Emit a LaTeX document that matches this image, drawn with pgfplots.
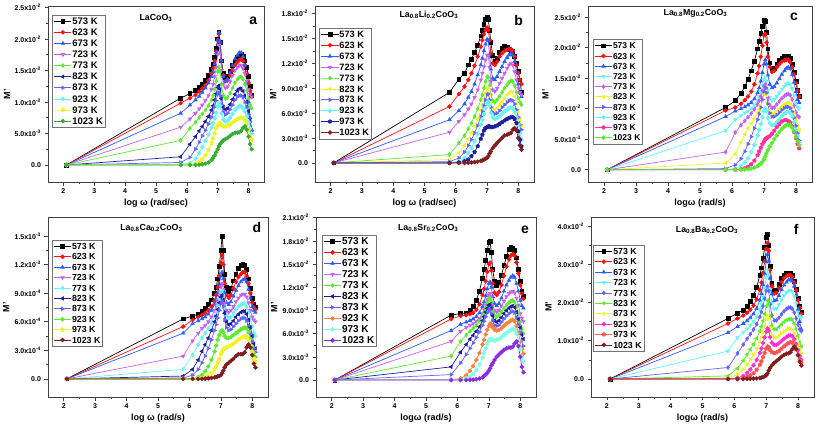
\documentclass[border=0pt]{standalone}
\usepackage{fontspec}
\setmainfont{Liberation Sans}
\usepackage{pgfplots}
\usepackage{pgfplotstable}
\pgfplotsset{compat=1.18}

\definecolor{cRed}{HTML}{FF1010}
\definecolor{cBlue}{HTML}{2B5CFF}
\definecolor{cViolet}{HTML}{C660F5}
\definecolor{cGreen}{HTML}{5CEB2E}
\definecolor{cNavy}{HTML}{1E1EA0}
\definecolor{cBV}{HTML}{6464FF}
\definecolor{cCyan}{HTML}{66F5F5}
\definecolor{cYellow}{HTML}{F2F22A}
\definecolor{cDkGreen}{HTML}{36AD36}
\definecolor{cBrown}{HTML}{7F1F1F}
\definecolor{cPink}{HTML}{FF3399}
\definecolor{cMagenta}{HTML}{FF30D0}
\definecolor{cSalmon}{HTML}{FF5555}
\definecolor{cOrange}{HTML}{FF8040}
\definecolor{cLCyan}{HTML}{80FFE8}
\definecolor{cPurple}{HTML}{8A2BE2}

% rows = temperatures (573 ... 1023 K), columns = log omega; values in units given per panel
\pgfplotstableread{
T 2.1 5.8 6.1 6.28 6.4 6.5 6.6 6.7 6.8 6.85 6.9 6.95 7.0 7.04 7.08 7.12 7.18 7.25 7.32 7.4 7.48 7.56 7.64 7.7 7.76 7.82 7.88 7.94 8.0 8.05 8.1
s1 0 10.6 11.3 11.8 12.3 12.8 13.4 14.2 15.2 16 17 18.5 20 21 19.5 16.5 14.5 13.8 14 14.8 15.8 16.5 17 17.3 17.5 17.2 16.5 15.5 14 12.5 11
s2 0 9.8 10.6 11.1 11.6 12.1 12.7 13.4 14.5 15.3 16.5 18 19.8 20.8 19.5 16.5 14.2 13.3 13.4 14.2 15 15.8 16.3 16.6 16.8 16.5 15.8 14.5 13 11.8 10.8
s3 0 8.2 9.5 10.3 10.9 11.5 12.2 13 14 14.8 16 17.8 19.8 21 19.5 16.5 14 13.3 13.6 14.6 15.8 16.8 17.4 17.8 17.8 17.2 15.8 13 10 7.5 5.5
s4 0 6.0 7.3 8.2 8.9 9.5 10.2 11 12 12.8 14 15.5 17.5 19 17.8 15 12.8 12.2 12.4 13.2 14.2 15 15.5 15.8 15.8 15.3 14.5 13.3 12 11.2 10.8
s5 0 3.9 5.8 6.8 7.5 8.1 8.7 9.4 10.3 11 12 13.3 14.8 15.5 14.8 12.8 11 10.5 10.7 11.4 12.2 13 13.6 13.9 14 13.6 12.8 11.8 10.5 9.5 9
s6 0 1.3 3.3 4.5 5.4 6.1 6.9 7.7 8.7 9.4 10.3 11.3 12.3 12.6 12 10.5 9.2 8.8 9 9.6 10.4 11.2 11.8 12.1 12.1 11.7 11 10 8.5 7 5.5
s7 0 0.4 1.2 2.5 3.6 4.6 5.5 6.5 7.6 8.3 9.2 10.2 11.2 11.5 11 9.6 8.4 8 8.2 8.8 9.5 10.3 10.8 11 11 10.7 10 9.2 8 6.8 5.5
s8 0 0.1 0.3 1.0 1.9 2.8 3.8 4.8 5.9 6.6 7.4 8.3 9.3 9.8 9.4 8.2 7.2 6.9 7 7.5 8.1 8.7 9.1 9.3 9.3 9 8.5 7.8 6.8 5.8 5
s9 0 0 0.05 0.2 0.5 0.9 1.5 2.4 3.5 4.2 5.0 5.8 6.3 6.6 6.6 6.3 6.1 6.1 6.2 6.4 6.7 7 7.3 7.4 7.5 7.4 7.1 6.5 5.5 4.5 4
s10 0 0 0 0 0.05 0.1 0.2 0.4 0.8 1.1 1.5 2 2.5 3 3.3 3.6 3.9 4.1 4.3 4.6 4.9 5.1 5.1 5.2 5.4 5.9 6.1 5.6 4.5 3.3 2.5
}\rawA
\pgfplotstableread{
T 2.1 5.8 6.1 6.28 6.4 6.5 6.6 6.7 6.8 6.85 6.9 6.95 7.0 7.04 7.08 7.12 7.18 7.25 7.32 7.4 7.48 7.56 7.64 7.7 7.76 7.82 7.88 7.94 8.0 8.05 8.1
s1 0 8.5 10.1 10.8 11.8 12.5 13.3 14.2 15.3 16 16.7 17.3 17.5 17.3 16 14.5 13 12.2 12.6 13.3 13.8 14 13.9 13.7 13.6 13.4 12.8 12 11 10 8.5
s2 0 6.8 8.3 9.2 10 10.8 11.7 12.8 14 14.8 15.5 16 16.3 16 14.8 13.2 12 11.8 12.2 12.8 13.2 13.5 13.6 13.7 13.7 13.5 12.8 11.8 10.8 10 9.5
s3 0 5.2 6.3 7.1 7.9 8.6 9.5 10.6 11.8 12.6 13.5 14.3 14.9 14.7 13 11.3 10.2 10 10.4 11 11.6 12.2 12.7 13 13.2 13 12.2 11 9.5 8.5 8
s4 0 3.7 5.0 5.8 6.5 7.1 7.9 8.8 10 10.8 11.6 12.4 13 12.9 11.5 9.8 8.8 8.6 9 9.6 10.2 10.8 11.4 11.8 12 11.8 11 10 9 8.5 8.2
s5 0 1.0 2.4 3.3 4.1 4.8 5.6 6.5 7.6 8.2 9 9.8 10.4 10.3 9.3 8.2 7.5 7.3 7.6 8 8.5 9 9.4 9.7 9.9 9.8 9.3 8.5 7.8 7.3 7
s6 0 0.4 1.2 2.1 2.9 3.6 4.4 5.3 6.4 7 7.7 8.4 9 9 8.2 7.2 6.6 6.4 6.6 7 7.4 7.8 8.2 8.4 8.6 8.5 8 7.2 6.2 5.2 4.5
s7 0 0.15 0.6 1.3 2.1 2.8 3.6 4.5 5.6 6.2 6.9 7.6 8.2 8.3 7.6 6.7 6.1 5.9 6 6.3 6.7 7 7.3 7.5 7.6 7.5 7.1 6.4 5.5 4.6 4
s8 0 0.05 0.2 0.6 1.2 1.8 2.6 3.5 4.6 5.2 5.9 6.6 7.2 7.4 6.9 6 5.5 5.3 5.4 5.6 5.9 6.2 6.4 6.6 6.7 6.6 6.2 5.5 4.6 3.6 2.8
s9 0 0 0.05 0.2 0.4 0.8 1.3 2.0 2.9 3.4 3.9 4.2 4.3 4.4 4.4 4.3 4.3 4.4 4.5 4.7 4.9 5.1 5.3 5.4 5.5 5.5 5.3 4.8 3.8 2.8 2
s10 0 0 0 0 0.02 0.05 0.1 0.15 0.25 0.3 0.4 0.5 0.6 0.8 1.1 1.4 1.8 2.1 2.4 2.7 3.0 3.3 3.4 3.5 3.6 4.0 4.2 3.9 3.0 2.1 1.6
}\rawB
\pgfplotstableread{
T 2.1 5.8 6.1 6.28 6.4 6.5 6.6 6.7 6.8 6.85 6.9 6.95 7.0 7.04 7.08 7.12 7.18 7.25 7.32 7.4 7.48 7.56 7.64 7.7 7.76 7.82 7.88 7.94 8.0 8.05 8.1
s1 0 10.2 11.3 12.5 13.6 14.8 16.2 17.8 19.8 21 22.3 23.5 24.5 24.3 22.5 19.8 17.5 16.5 16.6 17.2 17.9 18.3 18.5 18.6 18.6 18.2 17.2 16 14.5 13 12
s2 0 9.7 10.2 10.8 11.4 12 12.8 14 15.8 17 18.5 20.3 22 22.2 20.8 18.5 16.8 16 16.2 16.8 17.3 17.7 17.9 18 18 17.6 16.8 15.6 14.2 13 12
s3 0 8.7 9.6 10 10.3 10.6 11 11.6 12.6 13.4 14.5 15.9 17.3 18 17.3 15.5 14 13.4 13.6 14.2 14.9 15.6 16.2 16.6 16.8 16.5 15.6 14.3 12.8 11.5 11
s4 0 6.4 8.2 8.9 9.3 9.6 10 10.6 11.4 12 12.8 13.8 14.8 15.2 14.5 13 11.8 11.3 11.5 12 12.6 13.2 13.7 14 14.2 14 13.3 12.2 11 10.3 10
s5 0 2.9 6.1 7.3 8 8.6 9.2 9.9 10.7 11.3 12 12.9 13.7 14 13.3 11.8 10.6 10.1 10.2 10.7 11.2 11.7 12.1 12.3 12.4 12.2 11.5 10.5 9.4 8.8 8.6
s6 0 1.1 2.6 4.5 5.8 6.8 7.6 8.4 9.3 9.9 10.6 11.5 12.4 12.8 12.2 10.8 9.6 9.1 9.2 9.6 10 10.4 10.7 10.9 11 10.8 10.2 9.3 8.2 7.2 6.5
s7 0 0.2 0.8 1.8 3 4.2 5.4 6.8 8.2 9.1 10.2 11.5 12.8 13.4 12.6 10.8 9.3 8.7 8.7 9 9.4 9.8 10.1 10.3 10.3 10.1 9.5 8.5 7.2 6 4.8
s8 0 0.05 0.2 0.6 1.2 1.9 2.9 4.1 5.6 6.5 7.5 8.6 9.6 10 9.6 8.5 7.6 7.3 7.4 7.8 8.3 8.8 9.2 9.4 9.5 9.3 8.7 7.8 6.6 5.5 4.5
s9 0 0 0.02 0.1 0.25 0.5 0.9 1.5 2.4 3.0 3.6 4.2 4.6 5 5.2 5.3 5.5 5.9 6.4 7 7.5 7.9 8.1 8.1 8 7.7 7.1 6.2 5.2 4.2 3.5
s10 0 0 0 0.02 0.05 0.1 0.2 0.35 0.6 0.8 1.0 1.3 1.7 2.2 2.7 3.2 3.8 4.4 5.0 5.6 6.2 6.7 7.1 7.3 7.4 7.3 6.9 6.3 5.4 4.6 4
}\rawC
\pgfplotstableread{
T 2.1 5.8 6.1 6.28 6.4 6.5 6.6 6.7 6.8 6.85 6.9 6.95 7.0 7.04 7.08 7.12 7.18 7.25 7.32 7.4 7.48 7.56 7.64 7.7 7.76 7.82 7.88 7.94 8.0 8.05 8.1
s1 0 6.3 6.6 6.8 7.1 7.4 7.8 8.3 9.0 9.6 10.5 11.8 13.5 15.0 13.5 11 9.6 9.2 9.5 10.3 11 11.6 11.9 12 11.9 11.5 10.5 9.5 8.5 7.8 7.5
s2 0 5.5 6.2 6.5 6.7 6.9 7.2 7.6 8.2 8.8 9.6 10.8 12.2 13 12 10 8.8 8.5 8.8 9.5 10.2 10.7 11 11.2 11.2 10.8 10 9 8 7.5 7.3
s3 0 4.8 5.8 6.1 6.3 6.5 6.8 7.2 7.8 8.3 9 10 10.8 11.2 10.5 9 8 7.8 8.1 8.7 9.3 9.8 10.2 10.4 10.5 10.2 9.4 8.5 7.6 7.2 7
s4 0 2.4 4.0 4.8 5.3 5.6 6.0 6.5 7.2 7.7 8.3 9.1 9.7 10 9.4 8.0 7.2 7 7.2 7.6 8.1 8.5 8.8 8.9 8.9 8.6 8 7.2 6.5 6.2 6
s5 0 1.0 2.5 3.6 4.3 4.8 5.3 5.9 6.6 7.1 7.7 8.4 9 9.3 8.8 7.5 6.7 6.4 6.5 6.9 7.3 7.6 7.8 7.9 7.9 7.6 7 6.3 5.5 4.8 4.5
s6 0 0.3 1.0 2.0 2.9 3.6 4.3 5.1 6.0 6.6 7.3 8.0 8.6 8.8 8.3 6.9 6 5.7 5.8 6.1 6.5 6.8 7 7.1 7.1 6.8 6.2 5.4 4.5 3.7 3.2
s7 0 0.1 0.4 1.0 1.7 2.4 3.2 4.1 5.1 5.7 6.4 7.2 7.9 8.2 7.6 6.2 5.4 5.1 5.2 5.5 5.8 6.1 6.3 6.4 6.4 6.1 5.6 4.8 3.9 3.2 2.8
s8 0 0 0.05 0.2 0.4 0.8 1.3 2.0 2.9 3.5 4.1 4.6 5.0 5.1 4.9 4.5 4.3 4.3 4.4 4.6 4.8 5.0 5.2 5.3 5.4 5.3 4.9 4.2 3.4 2.7 2.3
s9 0 0 0 0.05 0.1 0.2 0.35 0.6 1.0 1.3 1.7 2.1 2.6 2.9 3.1 3.2 3.3 3.4 3.5 3.7 3.9 4.1 4.3 4.4 4.5 4.4 4.1 3.5 2.8 2.1 1.8
s10 0 0 0 0 0.02 0.04 0.06 0.1 0.15 0.2 0.25 0.3 0.4 0.6 0.9 1.2 1.5 1.7 1.9 2.1 2.4 2.6 2.6 2.6 2.8 3.3 3.6 3.3 2.5 1.6 1.2
}\rawD
\pgfplotstableread{
T 2.1 5.8 6.1 6.28 6.4 6.5 6.6 6.7 6.8 6.85 6.9 6.95 7.0 7.04 7.08 7.12 7.18 7.25 7.32 7.4 7.48 7.56 7.64 7.7 7.76 7.82 7.88 7.94 8.0 8.05 8.1
s1 0 8.4 8.6 8.7 9.0 9.5 10.3 11.5 13.2 14.3 15.5 16.8 17.8 17.9 16.5 14.3 12.8 12.3 12.6 13.5 14.8 16 16.9 17.2 17.1 16.8 15.8 14.3 12.8 11.5 10.8
s2 0 7.9 8.3 8.4 8.5 8.7 9.1 9.8 11 11.8 12.8 14 15 15.2 14.2 12.5 11.3 11 11.4 12.3 13.5 14.7 15.6 16.1 16.3 16.1 15.2 13.8 12.3 11.2 10.5
s3 0 6.4 7.2 7.5 7.7 7.9 8.2 8.7 9.5 10.1 10.9 11.8 12.5 12.7 12 10.8 9.9 9.6 9.9 10.6 11.5 12.3 12.9 13.3 13.5 13.3 12.5 11.5 10.3 9.6 9.3
s4 0 5.0 6.3 6.8 7.1 7.3 7.6 8.0 8.6 9.1 9.7 10.4 11 11.2 10.7 9.7 9 8.8 9 9.6 10.2 10.8 11.2 11.4 11.5 11.3 10.6 9.7 8.6 8 7.6
s5 0 3.1 5.0 5.8 6.3 6.7 7.1 7.6 8.3 8.8 9.4 10 10.4 10.6 10.1 9.1 8.4 8.2 8.4 8.8 9.3 9.7 10 10.2 10.3 10.1 9.5 8.6 7.5 6.6 6
s6 0 1.7 3.6 4.6 5.3 5.8 6.3 6.9 7.7 8.2 8.8 9.3 9.7 9.8 9.3 8.3 7.7 7.5 7.7 8.1 8.6 9 9.3 9.5 9.6 9.4 8.8 7.9 6.8 5.9 5.3
s7 0 0.7 2.2 3.3 4.1 4.8 5.5 6.2 7.1 7.6 8.2 8.7 9.0 9.1 8.6 7.7 7.1 7 7.1 7.5 7.9 8.3 8.6 8.8 8.9 8.7 8.1 7.2 6.1 5.1 4.4
s8 0 0.05 0.2 0.6 1.2 1.8 2.6 3.5 4.6 5.2 5.9 6.5 7.0 7.3 7.2 6.8 6.5 6.4 6.5 6.7 7 7.3 7.5 7.7 7.8 7.6 7 6.1 5 4 3.4
s9 0 0 0.05 0.2 0.4 0.8 1.3 2.0 2.9 3.5 4.1 4.7 5.1 5.3 5.3 5.2 5.1 5.2 5.3 5.5 5.8 6.1 6.3 6.5 6.6 6.5 6 5.1 4 3 2.4
s10 0 0 0 0 0.02 0.05 0.1 0.2 0.35 0.5 0.7 0.9 1.2 1.5 1.9 2.2 2.6 3 3.3 3.6 3.9 4.1 4.2 4.2 4.3 4.7 5.0 4.4 3 1.7 1.0
}\rawE
\pgfplotstableread{
T 2.1 5.8 6.1 6.28 6.4 6.5 6.6 6.7 6.8 6.85 6.9 6.95 7.0 7.04 7.08 7.12 7.18 7.25 7.32 7.4 7.48 7.56 7.64 7.7 7.76 7.82 7.88 7.94 8.0 8.05 8.1
s1 0 15.8 17.2 18 19 20.2 21.8 24 27 29 31.5 34.3 37 37.8 35 29.5 25 23 23.3 24.8 26.3 27.2 27.6 27.7 27.6 27 25.5 23.5 21 19 17.5
s2 0 14.5 15.8 16.6 17.3 18.1 19.2 20.8 23.3 25.2 27.7 30.7 34 35.5 33.5 28.5 24.2 22.3 22.5 23.8 25.3 26.3 26.9 27.1 27.1 26.6 25.2 23.2 20.6 18.6 17
s3 0 12.1 13.7 14.5 15.2 16 17 18.4 20.6 22.3 24.6 27.5 30.6 32.5 30.8 26.3 22.2 20.4 20.6 21.8 23.3 24.5 25.3 25.8 26 25.6 24.2 21.8 18.2 15 13
s4 0 7.3 10.8 12.2 13.1 14 15 16.3 18.2 19.6 21.4 23.8 26.6 28.5 27.2 23.3 19.8 18.3 18.4 19.4 20.7 21.8 22.6 23 23.2 22.8 21.5 19.6 17.5 16.5 16
s5 0 3.0 6.7 9.0 10.5 11.7 12.9 14.3 16.2 17.5 19 21 23 24.2 23 19.5 16.6 15.3 15.3 16 16.9 17.7 18.3 18.6 18.7 18.3 17.3 15.8 14.2 13 12.5
s6 0 0.8 2.8 4.8 6.4 7.7 9.1 10.6 12.5 13.7 15.2 17 19 20.5 19.5 16.5 14 13 13 13.6 14.3 14.9 15.4 15.6 15.7 15.4 14.5 13 11.2 9.5 8.5
s7 0 0.3 1.2 2.5 3.8 5.0 6.3 7.8 9.6 10.8 12.2 13.8 15.5 16.6 15.9 13.5 11.6 10.8 10.8 11.3 11.9 12.5 12.9 13.1 13.2 12.9 12 10.7 9.2 7.8 6.8
s8 0 0.05 0.3 0.8 1.6 2.5 3.6 5.0 6.8 8.0 9.4 10.9 12.4 13.2 12.6 10.9 9.5 8.9 8.9 9.3 9.9 10.5 11 11.3 11.4 11.2 10.4 9.1 7.5 6 5
s9 0 0 0.05 0.2 0.5 0.9 1.5 2.4 3.7 4.6 5.7 6.8 7.9 8.5 8.3 7.6 7 6.8 6.9 7.3 7.9 8.5 9 9.4 9.6 9.5 8.9 7.8 6.3 5 4.2
s10 0 0 0 0 0.03 0.06 0.1 0.15 0.25 0.35 0.5 0.7 1.0 1.5 2.2 2.9 3.6 4.2 4.7 5.2 5.8 6.3 6.6 6.7 7 7.8 8.4 7.8 6.2 4.5 3.5
}\rawF
\pgfplotstabletranspose[colnames from=T, input colnames to=x]\tabA\rawA
\pgfplotstabletranspose[colnames from=T, input colnames to=x]\tabB\rawB
\pgfplotstabletranspose[colnames from=T, input colnames to=x]\tabC\rawC
\pgfplotstabletranspose[colnames from=T, input colnames to=x]\tabD\rawD
\pgfplotstabletranspose[colnames from=T, input colnames to=x]\tabE\rawE
\pgfplotstabletranspose[colnames from=T, input colnames to=x]\tabF\rawF

\pgfplotsset{
 panel/.style={
  scale only axis, anchor=north west,
  xmin=1.5, xmax=8.5, xtick={2,3,4,5,6,7,8},
  minor x tick num=1, minor y tick num=1,
  tick align=outside, xtick pos=bottom, ytick pos=left,
  major tick length=3.5pt, minor tick length=2pt,
  axis line style={black!75, line width=0.7pt},
  tick style={black!75, line width=0.6pt},
  /pgf/number format/assume math mode=true,
  tick label style={font=\fontsize{7}{8}\selectfont\bfseries},
  label style={font=\fontsize{9}{10}\selectfont\bfseries},
  ylabel={M'},
  ylabel style={at={(axis description cs:-0.19,0.5)}, anchor=center},
  xlabel style={at={(axis description cs:0.5,0)}, anchor=center, yshift=-21pt},
  legend cell align=left,
  legend style={anchor=north west, draw=black!55, line width=0.4pt, fill=white,
    inner xsep=1.5pt, inner ysep=1.5pt, row sep=0.8pt,
    nodes={inner sep=0.6pt, text height=0.72em, text depth=0.1em}},
  every axis plot/.append style={line width=0.7pt, mark size=1.9pt},
 },
 mk1/.style={mark=square*},
 mk2/.style={mark=*},
 mk3/.style={mark=triangle*},
 mk4/.style={mark=triangle*, mark options={rotate=180}},
 mk5/.style={mark=diamond*},
 mk6/.style={mark=triangle*, mark options={rotate=90}},
 mk7/.style={mark=triangle*, mark options={rotate=-90}},
 mk8/.style={mark=*},
 mk9/.style={mark=pentagon*},
 mk10/.style={mark=*},
}
\newcommand\ttl[1]{\node[font=\fontsize{8.8}{10}\selectfont\bfseries] at #1}
\newcommand\lett[1]{\node[font=\fontsize{14}{14}\selectfont\bfseries] at #1}

\begin{document}
\begin{tikzpicture}
\path[use as bounding box] (0,0) rectangle (817pt,-431pt);

% ---------------- a
\begin{axis}[panel, at={(48pt,-6pt)}, width=216pt, height=176pt,
  ymin=-2.7, ymax=25.2, ytick={0,5,10,15,20,25},
  yticklabels={0.0,{5.0x10\textsuperscript{-3}},{1.0x10\textsuperscript{-2}},{1.5x10\textsuperscript{-2}},{2.0x10\textsuperscript{-2}},{2.5x10\textsuperscript{-2}}},
  xlabel={log ω (rad/sec)},
  legend style={at={(axis description cs:0.02,0.95)}, row sep=1.7pt, font=\fontsize{9.5}{11}\selectfont\bfseries}]
\addplot[black, mk1] table[x=x,y=s1]{\tabA}; \addlegendentry{573 K}
\addplot[cRed, mk2] table[x=x,y=s2]{\tabA}; \addlegendentry{623 K}
\addplot[cBlue, mk3] table[x=x,y=s3]{\tabA}; \addlegendentry{673 K}
\addplot[cViolet, mk4] table[x=x,y=s4]{\tabA}; \addlegendentry{723 K}
\addplot[cGreen, mk5] table[x=x,y=s5]{\tabA}; \addlegendentry{773 K}
\addplot[cNavy, mk6] table[x=x,y=s6]{\tabA}; \addlegendentry{823 K}
\addplot[cBV, mk7] table[x=x,y=s7]{\tabA}; \addlegendentry{873 K}
\addplot[cCyan, mk8] table[x=x,y=s8]{\tabA}; \addlegendentry{923 K}
\addplot[cYellow, mk9] table[x=x,y=s9]{\tabA}; \addlegendentry{973 K}
\addplot[cDkGreen, mk10] table[x=x,y=s10]{\tabA}; \addlegendentry{1023 K}
\ttl{(axis description cs:0.5,0.93)} {LaCoO\textsubscript{3}};
\lett{(axis description cs:0.95,0.915)} {a};
\end{axis}

% ---------------- b
\begin{axis}[panel, at={(315pt,-6pt)}, width=219pt, height=176pt,
  ymin=-2.3, ymax=18.9, ytick={0,3,6,9,12,15,18},
  yticklabels={0.0,{3.0x10\textsuperscript{-3}},{6.0x10\textsuperscript{-3}},{9.0x10\textsuperscript{-3}},{1.2x10\textsuperscript{-2}},{1.5x10\textsuperscript{-2}},{1.8x10\textsuperscript{-2}}},
  xlabel={log ω (rad/sec)},
  legend style={at={(axis description cs:0.02,0.875)}, row sep=1.5pt, font=\fontsize{9.2}{11}\selectfont\bfseries}]
\addplot[black, mk1] table[x=x,y=s1]{\tabB}; \addlegendentry{573 K}
\addplot[cRed, mk2] table[x=x,y=s2]{\tabB}; \addlegendentry{623 K}
\addplot[cBlue, mk3] table[x=x,y=s3]{\tabB}; \addlegendentry{673 K}
\addplot[cViolet, mk4] table[x=x,y=s4]{\tabB}; \addlegendentry{723 K}
\addplot[cGreen, mk5] table[x=x,y=s5]{\tabB}; \addlegendentry{773 K}
\addplot[cYellow, mk6] table[x=x,y=s6]{\tabB}; \addlegendentry{823 K}
\addplot[cBV, mk7] table[x=x,y=s7]{\tabB}; \addlegendentry{873 K}
\addplot[cCyan, mk8] table[x=x,y=s8]{\tabB}; \addlegendentry{923 K}
\addplot[cNavy, mk9] table[x=x,y=s9]{\tabB}; \addlegendentry{973 K}
\addplot[cBrown, mk10] table[x=x,y=s10]{\tabB}; \addlegendentry{1023 K}
\ttl{(axis description cs:0.52,0.95)} {La\textsubscript{0.8}Li\textsubscript{0.2}CoO\textsubscript{3}};
\lett{(axis description cs:0.93,0.915)} {b};
\end{axis}

% ---------------- c
\begin{axis}[panel, at={(588pt,-6pt)}, width=224pt, height=176pt,
  ymin=-2, ymax=26.8, ytick={0,5,10,15,20,25},
  yticklabels={0.0,{5.0x10\textsuperscript{-3}},{1.0x10\textsuperscript{-2}},{1.5x10\textsuperscript{-2}},{2.0x10\textsuperscript{-2}},{2.5x10\textsuperscript{-2}}},
  xlabel={logω (rad/s)},
  legend style={at={(axis description cs:0.022,0.81)}, row sep=0.8pt, font=\fontsize{8.5}{10}\selectfont\bfseries}]
\addplot[black, mk1] table[x=x,y=s1]{\tabC}; \addlegendentry{573 K}
\addplot[cRed, mk2] table[x=x,y=s2]{\tabC}; \addlegendentry{623 K}
\addplot[cBlue, mk3] table[x=x,y=s3]{\tabC}; \addlegendentry{673 K}
\addplot[cCyan, mk4] table[x=x,y=s4]{\tabC}; \addlegendentry{723 K}
\addplot[cViolet, mk5] table[x=x,y=s5]{\tabC}; \addlegendentry{773 K}
\addplot[cYellow, mk6] table[x=x,y=s6]{\tabC}; \addlegendentry{823 K}
\addplot[cBV, mk7] table[x=x,y=s7]{\tabC}; \addlegendentry{873 K}
\addplot[cCyan, mk8] table[x=x,y=s8]{\tabC}; \addlegendentry{923 K}
\addplot[cPink, mk9] table[x=x,y=s9]{\tabC}; \addlegendentry{973 K}
\addplot[cGreen, mk10] table[x=x,y=s10]{\tabC}; \addlegendentry{1023 K}
\ttl{(axis description cs:0.48,0.96)} {La\textsubscript{0.8}Mg\textsubscript{0.2}CoO\textsubscript{3}};
\lett{(axis description cs:0.92,0.94)} {c};
\end{axis}

% ---------------- d
\begin{axis}[panel, at={(48pt,-217pt)}, width=220pt, height=180pt,
  ymin=-1.9, ymax=17, ytick={0,3,6,9,12,15},
  yticklabels={0.0,{3.0x10\textsuperscript{-4}},{6.0x10\textsuperscript{-4}},{9.0x10\textsuperscript{-4}},{1.2x10\textsuperscript{-3}},{1.5x10\textsuperscript{-3}}},
  xlabel={log ω (rad/s)},
  legend style={at={(axis description cs:0.018,0.872)}, row sep=1.0pt, font=\fontsize{8.8}{10}\selectfont\bfseries}]
\addplot[black, mk1] table[x=x,y=s1]{\tabD}; \addlegendentry{573 K}
\addplot[cRed, mk2] table[x=x,y=s2]{\tabD}; \addlegendentry{623 K}
\addplot[cBlue, mk3] table[x=x,y=s3]{\tabD}; \addlegendentry{673 K}
\addplot[cViolet, mk4] table[x=x,y=s4]{\tabD}; \addlegendentry{723 K}
\addplot[cCyan, mk5] table[x=x,y=s5]{\tabD}; \addlegendentry{773 K}
\addplot[cNavy, mk6] table[x=x,y=s6]{\tabD}; \addlegendentry{823 K}
\addplot[cBV, mk7] table[x=x,y=s7]{\tabD}; \addlegendentry{873 K}
\addplot[cGreen, mk8] table[x=x,y=s8]{\tabD}; \addlegendentry{923 K}
\addplot[cYellow, mk9] table[x=x,y=s9]{\tabD}; \addlegendentry{973 K}
\addplot[cBrown, mk10] table[x=x,y=s10]{\tabD}; \addlegendentry{1023 K}
\ttl{(axis description cs:0.47,0.94)} {La\textsubscript{0.8}Ca\textsubscript{0.2}CoO\textsubscript{3}};
\lett{(axis description cs:0.95,0.94)} {d};
\end{axis}

% ---------------- e
\begin{axis}[panel, at={(316pt,-217pt)}, width=220pt, height=180pt,
  ymin=-2.2, ymax=21.1, ytick={0,3,6,9,12,15,18,21},
  yticklabels={0.0,{3.0x10\textsuperscript{-3}},{6.0x10\textsuperscript{-3}},{9.0x10\textsuperscript{-3}},{1.2x10\textsuperscript{-2}},{1.5x10\textsuperscript{-2}},{1.8x10\textsuperscript{-2}},{2.1x10\textsuperscript{-2}}},
  xlabel={logω (rad/s)},
  legend style={at={(axis description cs:0.027,0.9)}, row sep=1.6pt, font=\fontsize{10}{11}\selectfont\bfseries}]
\addplot[black, mk1] table[x=x,y=s1]{\tabE}; \addlegendentry{573 K}
\addplot[cRed, mk2] table[x=x,y=s2]{\tabE}; \addlegendentry{623 K}
\addplot[cBlue, mk3] table[x=x,y=s3]{\tabE}; \addlegendentry{673 K}
\addplot[cViolet, mk4] table[x=x,y=s4]{\tabE}; \addlegendentry{723 K}
\addplot[cGreen, mk5] table[x=x,y=s5]{\tabE}; \addlegendentry{773 K}
\addplot[cNavy, mk6] table[x=x,y=s6]{\tabE}; \addlegendentry{823 K}
\addplot[cBV, mk7] table[x=x,y=s7]{\tabE}; \addlegendentry{873 K}
\addplot[cOrange, mk8] table[x=x,y=s8]{\tabE}; \addlegendentry{923 K}
\addplot[cLCyan, mk9] table[x=x,y=s9]{\tabE}; \addlegendentry{973 K}
\addplot[cPurple, mk10] table[x=x,y=s10]{\tabE}; \addlegendentry{1023 K}
\ttl{(axis description cs:0.51,0.94)} {La\textsubscript{0.8}Sr\textsubscript{0.2}CoO\textsubscript{3}};
\lett{(axis description cs:0.95,0.93)} {e};
\end{axis}

% ---------------- f
\begin{axis}[panel, at={(591pt,-217pt)}, width=223pt, height=180pt,
  ymin=-4.7, ymax=42.3, ytick={0,10,20,30,40},
  yticklabels={0.0,{1.0x10\textsuperscript{-2}},{2.0x10\textsuperscript{-2}},{3.0x10\textsuperscript{-2}},{4.0x10\textsuperscript{-2}}},
  xlabel={logω (rad/s)},
  legend style={at={(axis description cs:0.01,0.845)}, row sep=1.0pt, font=\fontsize{8.8}{10}\selectfont\bfseries}]
\addplot[black, mk1] table[x=x,y=s1]{\tabF}; \addlegendentry{573 K}
\addplot[cRed, mk2] table[x=x,y=s2]{\tabF}; \addlegendentry{623 K}
\addplot[cBlue, mk3] table[x=x,y=s3]{\tabF}; \addlegendentry{673 K}
\addplot[cCyan, mk4] table[x=x,y=s4]{\tabF}; \addlegendentry{723 K}
\addplot[cBV, mk5] table[x=x,y=s5]{\tabF}; \addlegendentry{773 K}
\addplot[cGreen, mk6] table[x=x,y=s6]{\tabF}; \addlegendentry{823 K}
\addplot[cYellow, mk7] table[x=x,y=s7]{\tabF}; \addlegendentry{873 K}
\addplot[cMagenta, mk8] table[x=x,y=s8]{\tabF}; \addlegendentry{923 K}
\addplot[cSalmon, mk9] table[x=x,y=s9]{\tabF}; \addlegendentry{973 K}
\addplot[cBrown, mk10] table[x=x,y=s10]{\tabF}; \addlegendentry{1023 K}
\ttl{(axis description cs:0.52,0.93)} {La\textsubscript{0.8}Ba\textsubscript{0.2}CoO\textsubscript{3}};
\lett{(axis description cs:0.92,0.93)} {f};
\end{axis}
\end{tikzpicture}
\end{document}
